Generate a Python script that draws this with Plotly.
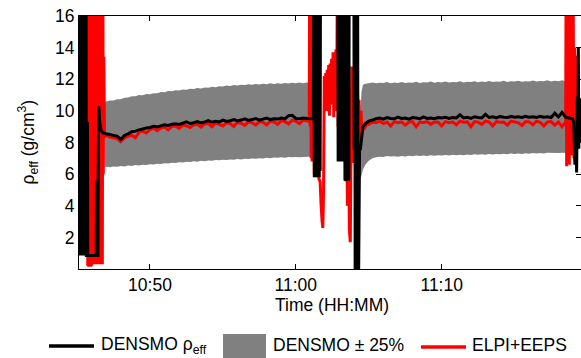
import plotly.graph_objects as go

DAY = "2014-05-20"

# ---------------- DENSMO effective density (black) ----------------
t_densmo_a = ["10:45:05","10:45:07","10:45:09","10:45:11","10:45:13","10:45:15","10:45:17","10:45:19",
              "10:45:21","10:45:23","10:45:25","10:45:27","10:45:29","10:45:31","10:45:33","10:45:35",
              "10:45:37","10:45:38","10:45:42","10:45:43","10:45:44","10:46:19","10:46:20","10:46:21",
              "10:46:26","10:46:27","10:46:29","10:46:33","10:46:38","10:46:45","10:46:52"]
densmo_a = [20, 0.85, 20, 0.85, 20, 0.85, 20, 0.85, 20, 0.85, 20, 0.85, 20, 0.85, 20, 0.85,
            20, 0.85, 0.85, 9.3, 0.85, 0.85, 5.6, 0.85, 0.85, 6.0, 10.3, 9.4, 8.8, 8.62, 8.58]

t_b = ["10:47:00","10:47:15","10:47:30","10:47:45","10:48:00","10:48:15","10:48:30","10:48:45",
       "10:49:00","10:49:15","10:49:30","10:49:45","10:50:00","10:50:15","10:50:30","10:50:45",
       "10:51:00","10:51:15","10:51:30","10:51:45","10:52:00","10:52:15","10:52:30","10:52:45",
       "10:53:00","10:53:15","10:53:30","10:53:45","10:54:00","10:54:15","10:54:30","10:54:45",
       "10:55:00","10:55:15","10:55:30","10:55:45","10:56:00","10:56:15","10:56:30","10:56:45",
       "10:57:00","10:57:15","10:57:30","10:57:45","10:58:00","10:58:15","10:58:30","10:58:45",
       "10:59:00","10:59:15","10:59:30","10:59:45","11:00:00","11:00:15","11:00:30","11:00:45"]
densmo_b = [8.55, 8.50, 8.45, 8.40, 8.20, 8.45, 8.55, 8.68, 8.72, 8.80, 8.85, 8.92, 8.95, 9.02,
            8.98, 9.05, 9.12, 9.08, 9.15, 9.18, 9.14, 9.22, 9.30, 9.20, 9.25, 9.32, 9.24, 9.30,
            9.38, 9.28, 9.34, 9.30, 9.42, 9.33, 9.38, 9.45, 9.36, 9.42, 9.50, 9.40, 9.45, 9.52,
            9.42, 9.48, 9.55, 9.45, 9.50, 9.48, 9.55, 9.50, 9.70, 9.72, 9.52, 9.50, 9.55, 9.52]

t_densmo_c = ["11:01:08","11:01:12","11:01:14","11:01:16","11:01:18","11:01:20","11:01:22","11:01:24",
              "11:01:26","11:01:28","11:01:30","11:01:32","11:01:34","11:01:36","11:01:38","11:01:40",
              "11:01:42","11:02:52","11:02:54","11:02:56","11:02:58","11:03:00","11:03:02","11:03:04",
              "11:03:06","11:03:08","11:03:10","11:03:12","11:03:20","11:03:22","11:03:24","11:03:26",
              "11:03:28","11:03:30","11:03:32","11:03:34","11:03:36","11:03:38","11:03:40","11:03:58",
              "11:04:00","11:04:02","11:04:04","11:04:06","11:04:08","11:04:10","11:04:12","11:04:14",
              "11:04:16","11:04:18","11:04:22","11:04:26","11:04:30","11:04:36","11:04:46"]
densmo_c = [9.5, 9.55, 20, 5.8, 20, 5.8, 20, 5.9, 20, 5.8, 20, 6.0, 20, 5.8, 20, 6.2,
            25, 25, 6.8, 20, 6.9, 20, 6.8, 20, 7.0, 20, 6.8, 25, 25, 5.6, 20, 5.55,
            20, 5.7, 20, 5.6, 20, 5.6, 25, 25, 7.55, 25, -1, 20, -1, 20, -1, 20,
            -1, -1, 7.5, 7.6, 8.2, 9.0, 9.2]

t_d = ["11:05:00","11:05:15","11:05:30","11:05:45","11:06:00","11:06:15","11:06:30","11:06:45",
       "11:07:00","11:07:15","11:07:30","11:07:45","11:08:00","11:08:15","11:08:30","11:08:45",
       "11:09:00","11:09:15","11:09:30","11:09:45","11:10:00","11:10:15","11:10:30","11:10:45",
       "11:11:00","11:11:15","11:11:30","11:11:45","11:12:00","11:12:15","11:12:30","11:12:45",
       "11:13:00","11:13:15","11:13:30","11:13:45","11:14:00","11:14:15","11:14:30","11:14:45",
       "11:15:00","11:15:15","11:15:30","11:15:45","11:16:00","11:16:15","11:16:30","11:16:45",
       "11:17:00","11:17:15","11:17:30","11:17:45","11:18:00","11:18:15","11:18:30"]
densmo_d = [9.35, 9.42, 9.50, 9.55, 9.48, 9.58, 9.52, 9.50, 9.60, 9.52, 9.55, 9.48, 9.58, 9.55,
            9.50, 9.62, 9.52, 9.55, 9.50, 9.58, 9.55, 9.60, 9.52, 9.58, 9.55, 9.75, 9.55, 9.60,
            9.52, 9.62, 9.58, 9.55, 9.78, 9.58, 9.62, 9.55, 9.65, 9.60, 9.58, 9.65, 9.60, 9.62,
            9.58, 9.65, 9.60, 9.63, 9.58, 9.65, 9.60, 9.62, 9.58, 9.85, 9.62, 9.90, 9.60]

t_densmo_e = ["11:18:45","11:18:58","11:19:03","11:19:08","11:19:12","11:19:15","11:19:18","11:19:20",
              "11:19:22","11:19:24","11:19:27","11:19:30","11:19:33","11:19:36","11:19:40"]
densmo_e = [9.55, 9.50, 9.30, 6.6, 8.8, 6.1, 10.9, 8.0, 14.0, 7.6, 10.8, 8.2, 10.5, 8.0, 10.0]

# ---------------- ELPI+EEPS (red) ----------------
t_elpi_a = ["10:45:38","10:45:40","10:45:42","10:45:44","10:45:46","10:45:48","10:45:50","10:45:52",
            "10:45:54","10:45:56","10:45:58","10:46:00","10:46:02","10:46:04","10:46:06","10:46:08",
            "10:46:10","10:46:12","10:46:14","10:46:16","10:46:18","10:46:20","10:46:22","10:46:24",
            "10:46:26","10:46:28","10:46:30","10:46:32","10:46:34","10:46:36","10:46:38","10:46:40",
            "10:46:42","10:46:44","10:46:46","10:46:48","10:46:50","10:46:53","10:46:56"]
elpi_a = [10.1, 9.0, 20, 0.2, 20, 0.15, 20, 0.2, 20, 0.15, 20, 0.2, 20, 1.2, 20, 0.3,
          11.2, 0.3, 11.0, 1.5, 20, 1.6, 20, 0.3, 20, 0.3, 20, 0.3, 13.4, 0.4, 20, 0.4,
          20, 0.3, 20, 6.0, 13.4, 8.5, 8.4]

elpi_b = [8.45, 8.35, 8.30, 8.25, 8.05, 8.30, 8.40, 8.45, 8.30, 8.65, 8.72, 8.60, 8.82, 8.90,
          8.75, 8.92, 8.98, 8.80, 9.02, 9.05, 8.90, 9.10, 9.05, 8.95, 9.12, 9.15, 8.98, 9.18,
          9.20, 9.00, 9.22, 9.15, 9.05, 9.25, 9.20, 9.02, 9.28, 9.22, 9.08, 9.30, 9.25, 9.10,
          9.32, 9.28, 9.12, 9.35, 9.30, 9.15, 9.38, 9.32, 9.18, 9.40, 9.35, 9.20, 9.40, 9.38]

t_elpi_c = ["11:00:55","11:00:57","11:00:59","11:01:01","11:01:03","11:01:05","11:01:07","11:01:09",
            "11:01:11","11:01:13","11:01:16","11:01:20","11:01:25","11:01:30","11:01:35","11:01:40",
            "11:01:44","11:01:48","11:01:51","11:01:54","11:01:57","11:02:00","11:02:03","11:02:06",
            "11:02:09","11:02:12","11:02:15","11:02:18","11:02:21","11:02:24","11:02:27","11:02:30",
            "11:02:33","11:02:36","11:02:39","11:02:42","11:02:45","11:02:48","11:02:51","11:02:54",
            "11:02:57","11:03:00","11:03:04","11:03:08","11:03:12","11:03:16","11:03:20","11:03:24",
            "11:03:28","11:03:32","11:03:36","11:03:40","11:03:44","11:03:47","11:03:50","11:03:53",
            "11:03:56","11:03:59","11:04:02","11:04:05","11:04:08","11:04:11","11:04:14","11:04:17",
            "11:04:20","11:04:24","11:04:28","11:04:32","11:04:36","11:04:42","11:04:50"]
elpi_c = [9.3, 20, 9.0, 20, 7.0, 20, 6.8, 20, 6.9, 20, 6.0, 20, 5.8, 20, 5.7, 5.5,
          4.0, 3.0, 2.6, 5.0, 12.2, 10.5, 12.4, 10.0, 12.6, 10.8, 12.9, 9.7, 13.0, 10.4, 13.3, 10.9,
          13.7, 9.6, 13.5, 11.0, 13.9, 10.0, 20, 9.0, 20, 7.0, 13.5, 10.5, 13.9, 9.0,
          13.0, 6.5, 12.0, 4.0, 11.0, 2.5, 1.7, 8.0, 12.8, 7.0, 12.5, 6.7, 12.0, 7.0,
          11.1, 6.8, 11.0, 7.5, 10.7, 8.2, 10.0, 8.5, 9.0, 8.9, 9.1]

elpi_d = [9.15, 9.30, 9.25, 9.35, 9.20, 9.30, 9.05, 9.32, 9.25, 9.30, 9.10, 9.28, 9.32, 9.00,
          9.30, 9.25, 9.32, 9.15, 9.30, 9.28, 9.05, 9.32, 9.25, 9.30, 9.12, 9.35, 9.28, 9.30,
          9.00, 9.32, 9.28, 9.15, 9.35, 9.30, 9.05, 9.32, 9.28, 9.30, 9.10, 9.35, 9.30, 9.25,
          9.08, 9.32, 9.30, 9.12, 9.35, 9.28, 9.05, 9.30, 9.32, 9.10, 9.30, 9.00, 9.30]

t_elpi_e = ["11:18:32","11:18:34","11:18:36","11:18:39","11:18:42","11:18:45","11:18:48","11:18:51",
            "11:18:54","11:18:57","11:19:00","11:19:02","11:19:04","11:19:07","11:19:10","11:19:13",
            "11:19:15"]
elpi_e = [20, 6.5, 20, 7.5, 20, 6.6, 20, 8.0, 20, 7.2, 20, 13.4, 7.0, 14.0, 6.8, 13.5, 7.5]

# ---------------- DENSMO +/- 25 % band (grey) ----------------
band_hi_b = [10.60, 10.66, 10.66, 10.74, 10.74, 10.83, 10.84, 10.93, 10.92, 11.00, 10.99, 11.06,
             11.05, 11.12, 11.11, 11.19, 11.18, 11.25, 11.24, 11.31, 11.29, 11.35, 11.33, 11.40,
             11.38, 11.44, 11.42, 11.48, 11.46, 11.52, 11.50, 11.56, 11.54, 11.60, 11.57, 11.63,
             11.60, 11.66, 11.63, 11.68, 11.65, 11.70, 11.67, 11.72, 11.68, 11.74, 11.70, 11.75,
             11.71, 11.77, 11.73, 11.78, 11.74, 11.79, 11.75, 11.80]
band_lo_b = [6.46, 6.44, 6.49, 6.46, 6.51, 6.49, 6.54, 6.52, 6.57, 6.55, 6.60, 6.58, 6.63, 6.61,
             6.66, 6.64, 6.69, 6.67, 6.72, 6.70, 6.75, 6.73, 6.78, 6.76, 6.81, 6.79, 6.84, 6.82,
             6.86, 6.84, 6.89, 6.87, 6.91, 6.89, 6.93, 6.91, 6.95, 6.93, 6.97, 6.95, 6.99, 6.97,
             7.01, 6.99, 7.03, 7.01, 7.05, 7.03, 7.06, 7.04, 7.08, 7.06, 7.09, 7.07, 7.10, 7.09]
band_hi_d = [11.74, 11.80, 11.74, 11.78, 11.76, 11.82, 11.75, 11.79, 11.77, 11.83,
             11.76, 11.80, 11.78, 11.84, 11.77, 11.81, 11.79, 11.85, 11.78, 11.82,
             11.80, 11.86, 11.79, 11.83, 11.81, 11.87, 11.80, 11.84, 11.82, 11.88,
             11.81, 11.85, 11.83, 11.89, 11.82, 11.86, 11.84, 11.90, 11.83, 11.87,
             11.85, 11.91, 11.84, 11.88, 11.86, 11.92, 11.85, 11.89, 11.87, 11.93,
             11.86, 11.90, 11.88, 11.94, 11.88]
band_lo_d = [6.85, 7.00, 7.06, 7.10, 7.09, 7.14, 7.11, 7.13, 7.10, 7.15,
             7.12, 7.16, 7.13, 7.17, 7.14, 7.18, 7.15, 7.19, 7.16, 7.20,
             7.17, 7.21, 7.18, 7.22, 7.19, 7.23, 7.20, 7.24, 7.21, 7.25,
             7.22, 7.26, 7.23, 7.27, 7.24, 7.28, 7.25, 7.29, 7.26, 7.30,
             7.27, 7.31, 7.28, 7.32, 7.29, 7.33, 7.30, 7.34, 7.31, 7.35,
             7.32, 7.34, 7.33, 7.35, 7.34]

t_band_left = ["10:46:55"] + t_b + ["11:01:07"]
hi_left = [10.6] + band_hi_b + [11.8]
lo_left = [6.45] + band_lo_b + [7.12]
t_band_right = ["11:04:25", "11:04:30", "11:04:36", "11:04:46"] + t_d + ["11:18:36"]
hi_right = [9.5, 11.2, 11.65, 11.72] + band_hi_d + [11.9]
lo_right = [5.6, 5.9, 6.3, 6.6] + band_lo_d + [7.33]

y_ticks = [2, 4, 6, 8, 10, 12, 14, 16]


def stamp(ts):
    return [f"{DAY} {t}" for t in ts]


t_densmo = stamp(t_densmo_a + t_b + t_densmo_c + t_d + t_densmo_e)
densmo = densmo_a + densmo_b + densmo_c + densmo_d + densmo_e
t_elpi = stamp(t_elpi_a + t_b + t_elpi_c + t_d + t_elpi_e)
elpi = elpi_a + elpi_b + elpi_c + elpi_d + elpi_e

FONT = "Liberation Sans, Arial, sans-serif"
FS = 17.5
GREY = "#808080"

fig = go.Figure()

for tb, hi, lo in [(t_band_left, hi_left, lo_left), (t_band_right, hi_right, lo_right)]:
    ts = stamp(tb)
    fig.add_trace(go.Scatter(x=ts + ts[::-1], y=hi + lo[::-1], fill="toself",
                             fillcolor=GREY, line=dict(width=0), mode="lines",
                             showlegend=False, hoverinfo="skip"))

fig.add_trace(go.Scatter(x=t_elpi, y=elpi, mode="lines",
                         line=dict(color="#ff0000", width=3, simplify=False),
                         showlegend=False))
fig.add_trace(go.Scatter(x=t_densmo, y=densmo, mode="lines",
                         line=dict(color="#000000", width=3, simplify=False),
                         showlegend=False))
# invisible trace to carry the right-hand tick axis
fig.add_trace(go.Scatter(x=[None], y=[None], yaxis="y2", showlegend=False, hoverinfo="skip"))

L, T, W, H = 79, 16, 502, 253


def px(x):
    return (x - L) / W


def py(y):
    return (T + H - y) / H


fig.update_layout(
    width=581, height=358,
    margin=dict(l=L, r=581 - L - W, t=T, b=358 - T - H),
    paper_bgcolor="white", plot_bgcolor="white",
    font=dict(family=FONT, size=FS, color="black"),
    xaxis=dict(type="date",
               range=[f"{DAY} 10:45:08", f"{DAY} 11:19:33"],
               tick0=f"{DAY} 10:50:00", dtick=600000, tickformat="%H:%M",
               ticks="inside", ticklen=5, tickcolor="black", tickwidth=1,
               showline=True, linecolor="black", linewidth=1, mirror="ticks",
               showgrid=False, zeroline=False,
               tickfont=dict(family=FONT, size=FS, color="black")),
    yaxis=dict(range=[0, 16], tickvals=y_ticks,
               ticks="inside", ticklen=5, tickcolor="black", tickwidth=1,
               showline=True, linecolor="black", linewidth=1, mirror=False,
               showgrid=False, zeroline=False,
               tickfont=dict(family=FONT, size=FS, color="black")),
    yaxis2=dict(range=[0, 16], tickvals=y_ticks, overlaying="y", side="right",
                ticks="inside", ticklen=5, tickcolor="black", tickwidth=1,
                showticklabels=False, showline=False, showgrid=False, zeroline=False),
)

# axis titles
fig.add_annotation(x=px(332), y=py(305), xref="paper", yref="paper",
                   text="Time (HH:MM)", showarrow=False, xanchor="center", yanchor="middle",
                   font=dict(family=FONT, size=FS, color="black"))
fig.add_annotation(x=px(28), y=0.5, xref="paper", yref="paper", textangle=-90,
                   text="ρ<sub>eff</sub> (g/cm<sup>3</sup>)", showarrow=False,
                   xanchor="center", yanchor="middle",
                   font=dict(family=FONT, size=FS, color="black"))

# legend (drawn below the axes)
LEG_Y = 345
fig.add_shape(type="line", xref="paper", yref="paper", x0=px(49), x1=px(94), y0=py(346), y1=py(346),
              line=dict(color="black", width=3.5))
fig.add_annotation(x=px(99), y=py(LEG_Y), xref="paper", yref="paper", text="DENSMO ρ<sub>eff</sub>",
                   showarrow=False, xanchor="left", yanchor="middle",
                   font=dict(family=FONT, size=FS, color="black"))
fig.add_shape(type="rect", xref="paper", yref="paper", x0=px(223), x1=px(266), y0=py(334), y1=py(364),
              fillcolor=GREY, line=dict(width=0))
fig.add_annotation(x=px(271), y=py(LEG_Y), xref="paper", yref="paper", text="DENSMO ± 25%",
                   showarrow=False, xanchor="left", yanchor="middle",
                   font=dict(family=FONT, size=FS, color="black"))
fig.add_shape(type="line", xref="paper", yref="paper", x0=px(421), x1=px(466), y0=py(347), y1=py(347),
              line=dict(color="#ff0000", width=3.5))
fig.add_annotation(x=px(470), y=py(LEG_Y), xref="paper", yref="paper", text="ELPI+EEPS",
                   showarrow=False, xanchor="left", yanchor="middle",
                   font=dict(family=FONT, size=FS, color="black"))

fig.write_html("out.html", config={"displayModeBar": False})

# remove the browser's default page margin so the figure sits at the window's corner
with open("out.html", encoding="utf-8") as fh:
    html = fh.read()
html = html.replace("<head>", "<head><style>html,body{margin:0;padding:0;overflow:hidden;}</style>", 1)
with open("out.html", "w", encoding="utf-8") as fh:
    fh.write(html)
